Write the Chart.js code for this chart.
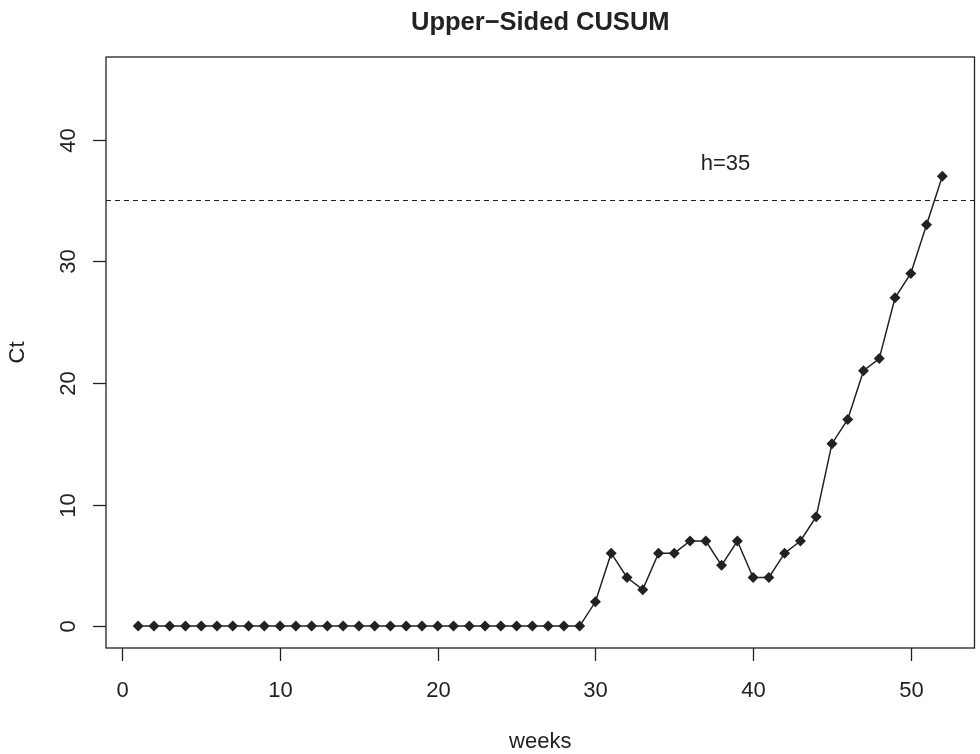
<!DOCTYPE html>
<html><head><meta charset="utf-8">
<script src="https://cdn.jsdelivr.net/npm/chart.js@4/dist/chart.umd.min.js"></script>
<style>html,body{margin:0;padding:0;background:#fff}#wrap{width:980px;height:754px;position:relative}</style>
</head><body><div id="wrap"><canvas id="c" width="980" height="754"></canvas></div>
<script>
const weeks = Array.from({length:52},(_,i)=>i+1);
const ct = [0,0,0,0,0,0,0,0,0,0,0,0,0,0,0,0,0,0,0,0,0,0,0,0,0,0,0,0,0,
            2,6,4,3,6,6,7,7,5,7,4,4,6,7,9,15,17,21,22,27,29,33,37];
const xTicks = [0,10,20,30,40,50];
const yTicks = [0,10,20,30,40];
const hValue = 35;
const hLabel = "h=35";
const hLabelPos = {x:38.25, y:38};
const title = "Upper\u2212Sided CUSUM";
const xTitle = "weeks";
const yTitle = "Ct";
const xLim = [-1.04, 54.04];
const yLim = [-1.8, 46.8];

const FONT = '"Liberation Sans", Arial, sans-serif';
const ink = '#222';

const axesPlugin = {
  id:'rAxes',
  afterDraw(chart){
    const ctx = chart.ctx, a = chart.chartArea;
    const xs = chart.scales.x, ys = chart.scales.y;
    ctx.save();
    ctx.strokeStyle = ink; ctx.lineWidth = 1.3;
    ctx.strokeRect(a.left, a.top, a.right-a.left, a.bottom-a.top);
    ctx.fillStyle = ink;
    ctx.font = '22px ' + FONT;
    ctx.textAlign='center'; ctx.textBaseline='alphabetic';
    xTicks.forEach(v=>{
      const px = Math.round(xs.getPixelForValue(v))+0.5;
      ctx.beginPath(); ctx.moveTo(px,a.bottom); ctx.lineTo(px,a.bottom+13); ctx.stroke();
      ctx.fillText(String(v), px, 697);
    });
    yTicks.forEach(v=>{
      const py = Math.round(ys.getPixelForValue(v))+0.5;
      ctx.beginPath(); ctx.moveTo(a.left,py); ctx.lineTo(a.left-13,py); ctx.stroke();
      ctx.save(); ctx.translate(75, py); ctx.rotate(-Math.PI/2);
      ctx.fillText(String(v),0,0); ctx.restore();
    });
    ctx.textBaseline='middle';
    ctx.fillText(hLabel, xs.getPixelForValue(hLabelPos.x), ys.getPixelForValue(hLabelPos.y));
    ctx.textBaseline='alphabetic';
    ctx.fillText(xTitle, (a.left+a.right)/2, 748);
    ctx.save(); ctx.translate(23.5,(a.top+a.bottom)/2); ctx.rotate(-Math.PI/2);
    ctx.fillText(yTitle,0,0); ctx.restore();
    ctx.font = 'bold 25.5px ' + FONT;
    ctx.fillText(title, (a.left+a.right)/2, 30);
    ctx.restore();
  }
};

new Chart(document.getElementById('c'), {
  type:'line',
  data:{
    datasets:[
      {
        data: weeks.map((w,i)=>({x:w,y:ct[i]})),
        borderColor: ink, borderWidth: 1.5, backgroundColor: ink,
        pointStyle:'rectRot', pointRadius:5.5, pointBorderWidth:0,
        pointBackgroundColor: ink, tension:0
      },
      {
        data: [{x:xLim[0],y:hValue},{x:xLim[1],y:hValue}],
        borderColor: ink, borderWidth: 1.2, borderDash:[5,4],
        pointRadius:0, tension:0
      }
    ]
  },
  options:{
    responsive:false, animation:false,
    layout:{padding:{left:106,top:57,right:5,bottom:106}},
    plugins:{legend:{display:false}, tooltip:{enabled:false}},
    scales:{
      x:{type:'linear', min:xLim[0], max:xLim[1], display:false},
      y:{type:'linear', min:yLim[0], max:yLim[1], display:false}
    }
  },
  plugins:[axesPlugin]
});
</script></body></html>
